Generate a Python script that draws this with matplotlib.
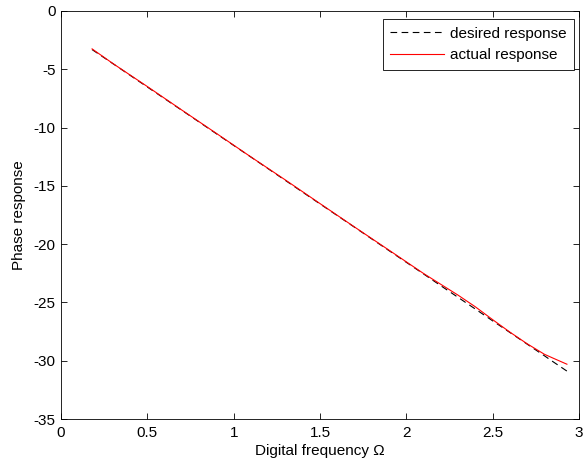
import matplotlib
matplotlib.use("Agg")
import matplotlib.pyplot as plt

plt.rcParams['font.family'] = ['Liberation Sans', 'DejaVu Sans']
FS = 11
plt.rcParams['font.size'] = FS

omega = [0.18, 0.3, 0.5, 0.7, 0.9, 1.1, 1.3, 1.5, 1.7, 1.9, 2.1, 2.2, 2.3, 2.4,
         2.5, 2.6, 2.7, 2.8, 2.85, 2.93]
desired = [-3.31, -4.51, -6.52, -8.52, -10.53, -12.53, -14.54, -16.55, -18.55,
           -20.56, -22.56, -23.57, -24.57, -25.57, -26.58, -27.58, -28.58,
           -29.58, -30.09, -30.89]
actual = [-3.25, -4.50, -6.48, -8.50, -10.50, -12.52, -14.50, -16.52, -18.53,
          -20.52, -22.52, -23.45, -24.38, -25.38, -26.48, -27.55, -28.55,
          -29.45, -29.78, -30.30]

xticks = [0, 0.5, 1, 1.5, 2, 2.5, 3]
xticklabels = ['0', '0.5', '1', '1.5', '2', '2.5', '3']
yticks = [0, -5, -10, -15, -20, -25, -30, -35]
yticklabels = ['0', '-5', '-10', '-15', '-20', '-25', '-30', '-35']

fig = plt.figure(figsize=(5.85, 4.65), dpi=100)
ax = fig.add_axes([61/585, 1 - 419/465, (579-61)/585, (419-11)/465])

ax.plot(omega, desired, color='black', linestyle=(0, (6, 4)), linewidth=0.8,
        label='desired response')
ax.plot(omega, actual, color='red', linestyle='-', linewidth=0.8,
        label='actual response')

ax.set_xlim(0, 3)
ax.set_ylim(-35, 0)
ax.set_xticks(xticks)
ax.set_xticklabels(xticklabels)
ax.set_yticks(yticks)
ax.set_yticklabels(yticklabels)
ax.tick_params(direction='in', top=True, right=True, length=4, width=0.6,
               labelsize=FS)
ax.tick_params(axis='x', pad=5)
ax.tick_params(axis='y', pad=4)
for s in ax.spines.values():
    s.set_linewidth(0.6)

ax.set_xlabel('Digital frequency Ω', fontsize=FS, labelpad=3)
ax.set_ylabel('Phase response', fontsize=FS, labelpad=5)

leg = ax.legend(loc='upper right', bbox_to_anchor=((574-61)/518, 1 - 8/408),
                borderaxespad=0, fontsize=FS, frameon=True, fancybox=False,
                edgecolor='black', framealpha=1, handlelength=3.5,
                handletextpad=0.4, borderpad=0.5, labelspacing=0.5)
leg.get_frame().set_linewidth(0.6)

fig.savefig('out.png', dpi=100)
